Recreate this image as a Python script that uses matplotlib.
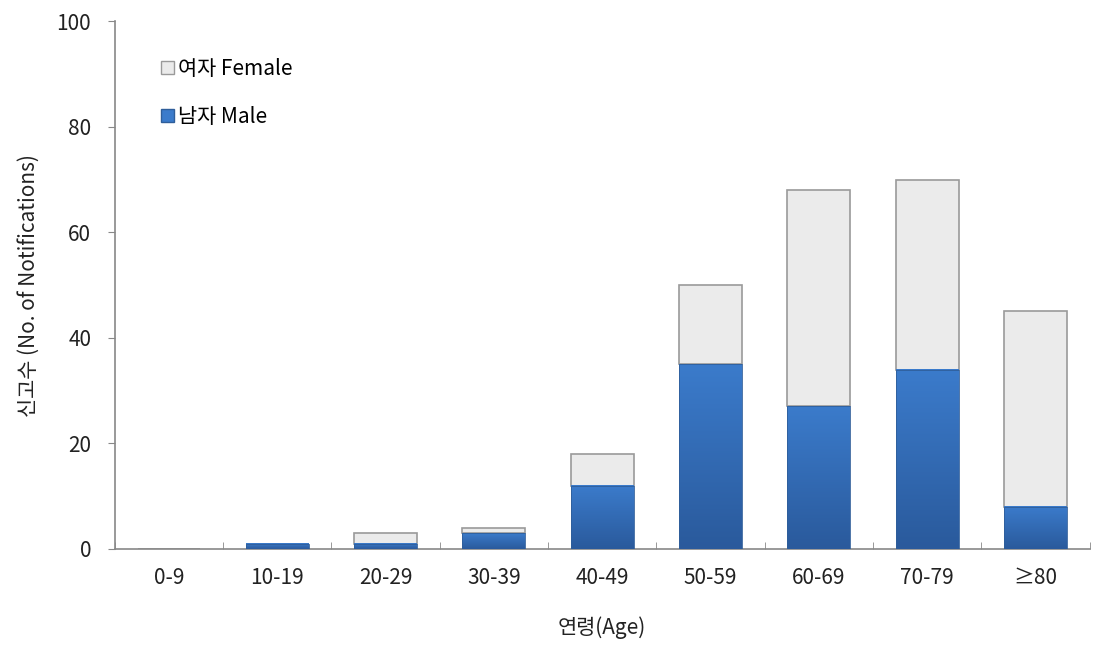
import matplotlib
matplotlib.use("Agg")
import matplotlib.pyplot as plt
import numpy as np
from matplotlib.patches import Patch
from matplotlib.colors import LinearSegmentedColormap

plt.rcParams['font.family'] = ['Noto Sans CJK KR', 'DejaVu Sans']

categories = ["0-9", "10-19", "20-29", "30-39", "40-49", "50-59", "60-69", "70-79", "≥80"]
male = [0, 1, 1, 3, 12, 35, 27, 34, 8]
female = [0, 0, 2, 1, 6, 15, 41, 36, 37]

fig = plt.figure(figsize=(10.93, 6.45), dpi=100)
ax = fig.add_axes([0.105, 0.149, 0.892, 0.818])

x = np.arange(len(categories))
width = 0.58

female_color = "#EBEBEB"
female_edge = "#9A9A9A"
male_top = "#3B7BCB"
male_bot = "#2A5A9C"
cmap = LinearSegmentedColormap.from_list("m", [male_bot, male_top])
grad = np.linspace(0, 1, 100).reshape(-1, 1)

ax.bar(x, female, width, bottom=male, color=female_color, edgecolor=female_edge, linewidth=1.2, zorder=2)
for xi, m in zip(x, male):
    if m > 0:
        ax.imshow(grad, cmap=cmap, origin="lower", aspect="auto",
                  extent=(xi - width / 2, xi + width / 2, 0, m), zorder=3)
        ax.bar(xi, m, width, color="none", edgecolor="#2F5E9A", linewidth=0.6, zorder=4)

ax.set_xlim(-0.5, len(categories) - 0.5)
ax.set_ylim(0, 100)
ax.set_yticks([0, 20, 40, 60, 80, 100])
ax.set_xticks(x)
ax.set_xticklabels(categories)
ax.set_xticks(np.arange(len(categories) + 1) - 0.5, minor=True)
ax.tick_params(axis="x", which="major", length=0, pad=13, labelsize=15, colors="#222222")
ax.tick_params(axis="x", which="minor", length=5, direction="in", color="#888888")
ax.tick_params(axis="y", length=5, direction="out", color="#888888", labelsize=15, labelcolor="#222222", pad=12)

for s in ["top", "right"]:
    ax.spines[s].set_visible(False)
for s in ["left", "bottom"]:
    ax.spines[s].set_color("#888888")
    ax.spines[s].set_linewidth(1.2)

ax.set_xlabel("연령(Age)", fontsize=15, color="#222222", labelpad=20)
ax.set_ylabel("신고수 (No. of Notifications)", fontsize=15, color="#222222", labelpad=12)

handles = [Patch(facecolor=female_color, edgecolor=female_edge, linewidth=1),
           Patch(facecolor=male_top, edgecolor="#2F5E9A", linewidth=1)]
ax.legend(handles, ["여자 Female", "남자 Male"], loc="upper left", bbox_to_anchor=(0.035, 0.955),
          frameon=False, fontsize=15, handlelength=0.6, handleheight=0.6, handletextpad=0.2,
          labelspacing=1.25, borderaxespad=0.2)

fig.savefig("out.png", dpi=100)
